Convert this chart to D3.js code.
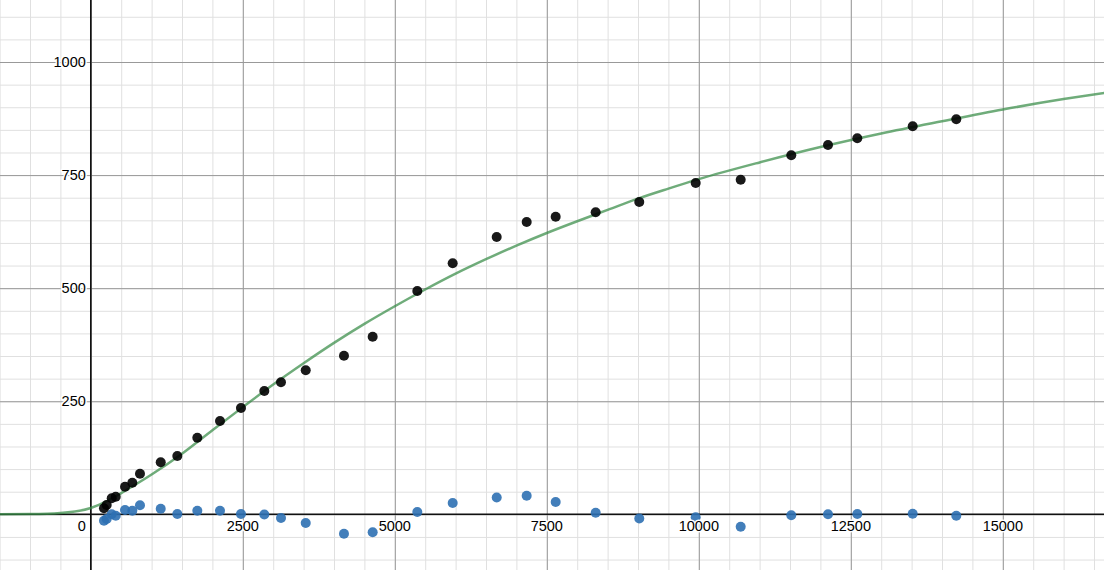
<!DOCTYPE html>
<html>
<head>
<meta charset="utf-8">
<script src="https://cdn.jsdelivr.net/npm/d3@7"></script>
<style>
  html, body { margin: 0; padding: 0; background: #fff; }
  svg { display: block; }
  text { font-family: "Liberation Sans", Arial, sans-serif; }
</style>
</head>
<body>
<svg id="chart" width="1104" height="570"></svg>
<script>
const obsX = [217, 261, 344, 410, 563, 683, 809, 1150, 1423, 1752, 2125, 2470, 2854, 3128, 3535, 4164, 4636, 5370, 5952, 6676, 7169, 7646, 8304, 9021, 9949, 10689, 11521, 12125, 12607, 13518, 14235];
const obsY = [13.3, 20.6, 35.4, 38.9, 61.0, 69.9, 89.8, 115, 128.9, 169.4, 206.3, 235, 272.6, 291.8, 318.4, 350.7, 392.7, 493.7, 555, 613, 646.3, 658, 668, 690.5, 732.5, 739.8, 793.7, 816.5, 831.3, 857.8, 873.3];
// Residuals (blue points) at the same x
const residY = [-14.1, -10.4, 0, -3.1, 9.5, 8, 19.9, 12.4, 0.7, 8, 8, 0.7, -0.4, -8.2, -19.2, -42.9, -39.8, 5.1, 25, 37.1, 41.1, 27.2, 3.5, -9.3, -6.6, -27.4, -2, 0, 0.7, 1.3, -3.1];
// Fitted curve samples (green line)
const fitX = [-1500, -1000, -500, 0, 250, 500, 750, 1000, 1500, 2000, 2500, 3000, 3500, 4000, 4500, 5000, 5500, 6000, 6500, 7000, 7500, 8000, 8500, 9000, 9500, 10000, 11000, 12000, 13000, 14000, 15000, 16000, 16700];
const fitY = [0, 0.5, 3, 14, 28, 47, 67, 88, 134, 186, 237, 287, 334, 379, 421, 460, 497, 532, 564, 594, 622, 648, 673, 698, 720, 741, 778, 812, 842, 869, 895, 918, 932];
// Axis ticks
const xTickLabels = [2500, 5000, 7500, 10000, 12500, 15000];
const yTickLabels = [250, 500, 750, 1000];
const xMinor = d3.range(-1500, 17000, 500);
const yMinor = d3.range(-100, 1150, 50);
const xMajor = d3.range(0, 17500, 2500);
const yMajor = d3.range(0, 1250, 250);

const W = 1104, H = 570;
const svg = d3.select("#chart");

const x = d3.scaleLinear().domain([-1493.4, 16664.5]).range([0, W]);
const y = d3.scaleLinear().domain([-123.1, 1137.1]).range([H, 0]);

// Minor grid
svg.append("g")
  .attr("transform", `translate(0,${H})`)
  .call(d3.axisBottom(x).tickValues(xMinor).tickSize(-H).tickFormat(""))
  .call(g => g.select(".domain").remove())
  .call(g => g.selectAll("line").attr("stroke", "#e0e0e0").attr("stroke-width", 1));
svg.append("g")
  .call(d3.axisLeft(y).tickValues(yMinor).tickSize(-W).tickFormat(""))
  .call(g => g.select(".domain").remove())
  .call(g => g.selectAll("line").attr("stroke", "#e0e0e0").attr("stroke-width", 1));

// Major grid
svg.append("g")
  .attr("transform", `translate(0,${H})`)
  .call(d3.axisBottom(x).tickValues(xMajor).tickSize(-H).tickFormat(""))
  .call(g => g.select(".domain").remove())
  .call(g => g.selectAll("line").attr("stroke", "#999").attr("stroke-width", 1));
svg.append("g")
  .call(d3.axisLeft(y).tickValues(yMajor).tickSize(-W).tickFormat(""))
  .call(g => g.select(".domain").remove())
  .call(g => g.selectAll("line").attr("stroke", "#999").attr("stroke-width", 1));

// Axes lines
svg.append("line").attr("x1", 0).attr("x2", W).attr("y1", y(0)).attr("y2", y(0))
  .attr("stroke", "#111").attr("stroke-width", 1.6);
svg.append("line").attr("x1", x(0)).attr("x2", x(0)).attr("y1", 0).attr("y2", H)
  .attr("stroke", "#111").attr("stroke-width", 1.6);

// Fitted curve
const fit = fitX.map((v, i) => [v, fitY[i]]);
svg.append("path")
  .datum(fit)
  .attr("fill", "none")
  .attr("stroke", "#388c46")
  .attr("stroke-opacity", 0.72)
  .attr("stroke-width", 2.5)
  .attr("d", d3.line().x(d => x(d[0])).y(d => y(d[1])).curve(d3.curveMonotoneX));

// Residual points (blue)
svg.append("g").selectAll("circle")
  .data(obsX.map((v, i) => [v, residY[i]]))
  .join("circle")
  .attr("cx", d => x(d[0])).attr("cy", d => y(d[1])).attr("r", 5)
  .attr("fill", "#2d70b3").attr("fill-opacity", 0.9);

// Observed points (black)
svg.append("g").selectAll("circle")
  .data(obsX.map((v, i) => [v, obsY[i]]))
  .join("circle")
  .attr("cx", d => x(d[0])).attr("cy", d => y(d[1])).attr("r", 5)
  .attr("fill", "#000").attr("fill-opacity", 0.9);

// Tick labels
const lab = svg.append("g").attr("font-size", 14.5).attr("fill", "#000")
  .attr("stroke", "#fff").attr("stroke-width", 3).attr("paint-order", "stroke")
  .attr("stroke-linejoin", "round");
lab.selectAll("text.xl").data(xTickLabels).join("text")
  .attr("class", "xl")
  .attr("x", d => x(d)).attr("y", y(0) + 17)
  .attr("text-anchor", "middle").text(d => d);
lab.selectAll("text.yl").data(yTickLabels).join("text")
  .attr("class", "yl")
  .attr("x", x(0) - 5).attr("y", d => y(d) + 5)
  .attr("text-anchor", "end").text(d => d);
lab.append("text").attr("x", x(0) - 5).attr("y", y(0) + 17)
  .attr("text-anchor", "end").text(0);
</script>
</body>
</html>
